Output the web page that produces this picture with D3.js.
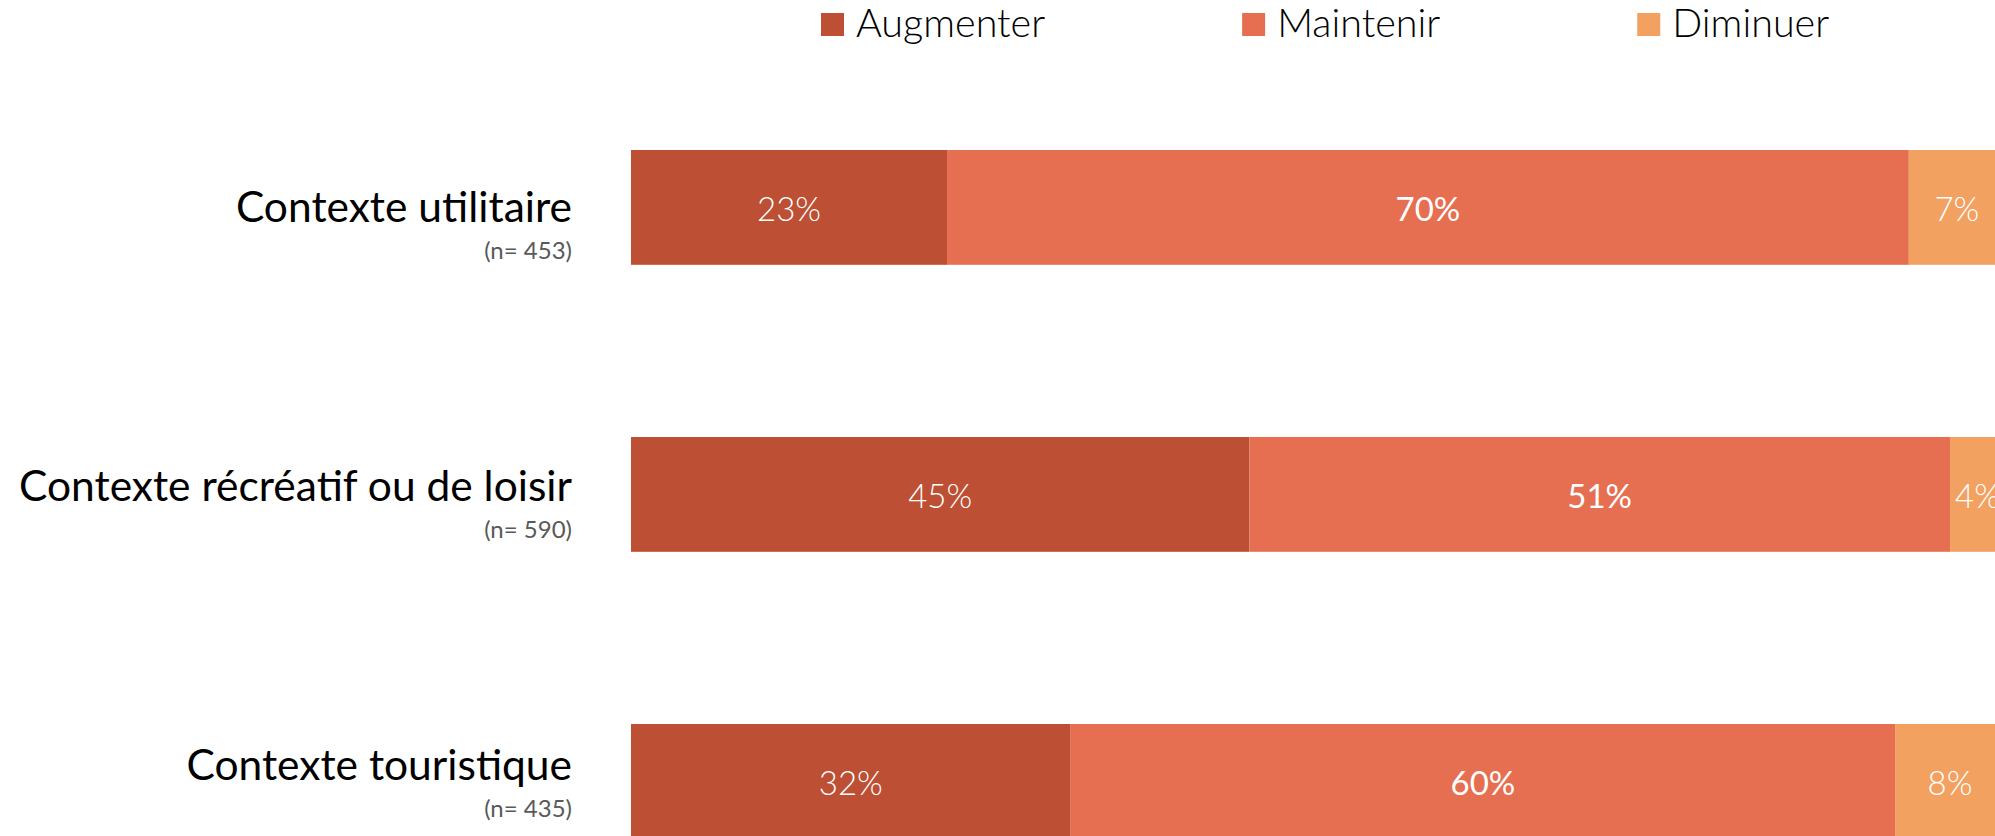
<!DOCTYPE html>
<html>
<head>
<meta charset="utf-8">
<script src="https://cdn.jsdelivr.net/npm/d3@7"></script>
<style>
  html, body { margin: 0; padding: 0; background: #ffffff; }
  svg { display: block; font-family: Lato, "Open Sans", sans-serif; }
</style>
</head>
<body>
<svg id="chart" width="1995" height="836"></svg>
<script>
// Categories and sample sizes
const categories = ["Contexte utilitaire", "Contexte récréatif ou de loisir", "Contexte touristique"];
const sampleSizes = ["(n= 453)", "(n= 590)", "(n= 435)"];

// Series (share of respondents, %)
const seriesNames = ["Augmenter", "Maintenir", "Diminuer"];
const augmenter = [23, 45, 32];
const maintenir = [70, 51, 60];
const diminuer  = [7, 4, 8];

const colors = ["#BC4F34", "#E66F51", "#F2A161"];

const svg = d3.select("#chart");

// Stacked rows built from the series arrays
const rows = categories.map((c, i) => ({
  cat: c,
  Augmenter: augmenter[i],
  Maintenir: maintenir[i],
  Diminuer: diminuer[i]
}));
const stack = d3.stack().keys(seriesNames)(rows);

const x = d3.scaleLinear().domain([0, 100]).range([631, 2005]);
const y = d3.scaleBand().domain(categories).range([6.5, 982.3]).paddingInner(0.6).paddingOuter(0.5);
const labelY = d3.scalePoint().domain(categories).range([222, 780]);
const color = d3.scaleOrdinal().domain(seriesNames).range(colors);

// Bars
const layer = svg.append("g").selectAll("g")
  .data(stack).join("g")
  .attr("fill", d => color(d.key));

layer.selectAll("rect")
  .data(d => d.map(p => ({ key: d.key, p })))
  .join("rect")
  .attr("x", d => x(d.p[0]))
  .attr("y", d => y(d.p.data.cat))
  .attr("width", d => x(d.p[1]) - x(d.p[0]))
  .attr("height", y.bandwidth());

// Value labels inside segments
const fs = 33;
layer.selectAll("text")
  .data(d => d.map(p => ({ key: d.key, p })))
  .join("text")
  .attr("x", d => (x(d.p[0]) + x(d.p[1])) / 2)
  .attr("y", d => y(d.p.data.cat) + y.bandwidth() / 2 + fs * 0.36 + 2)
  .attr("text-anchor", "middle")
  .attr("fill", "#ffffff")
  .attr("font-size", fs)
  .attr("font-weight", d => d.key === "Maintenir" ? 400 : 300)
  .text(d => (d.p[1] - d.p[0]) + "%");

// Category labels
const labels = svg.append("g");
labels.selectAll("text.cat")
  .data(categories).join("text")
  .attr("class", "cat")
  .attr("x", 572)
  .attr("y", d => labelY(d))
  .attr("text-anchor", "end")
  .attr("fill", "#000000")
  .attr("font-size", 42.5)
  .text(d => d);

labels.selectAll("text.n")
  .data(categories).join("text")
  .attr("class", "n")
  .attr("x", 572)
  .attr("y", d => labelY(d) + 37)
  .attr("text-anchor", "end")
  .attr("fill", "#595959")
  .attr("font-size", 24)
  .attr("font-weight", 400)
  .text((d, i) => sampleSizes[i]);

// Legend
const legend = svg.append("g");
let lx = 821;
seriesNames.forEach(name => {
  legend.append("rect")
    .attr("x", lx).attr("y", 13)
    .attr("width", 23).attr("height", 23)
    .attr("fill", color(name));
  const t = legend.append("text")
    .attr("x", lx + 35).attr("y", 37)
    .attr("fill", "#000000")
    .attr("font-size", 39.5)
    .attr("font-weight", 300)
    .text(name);
  lx = lx + 35 + t.node().getComputedTextLength() + 197;
});
</script>
</body>
</html>
